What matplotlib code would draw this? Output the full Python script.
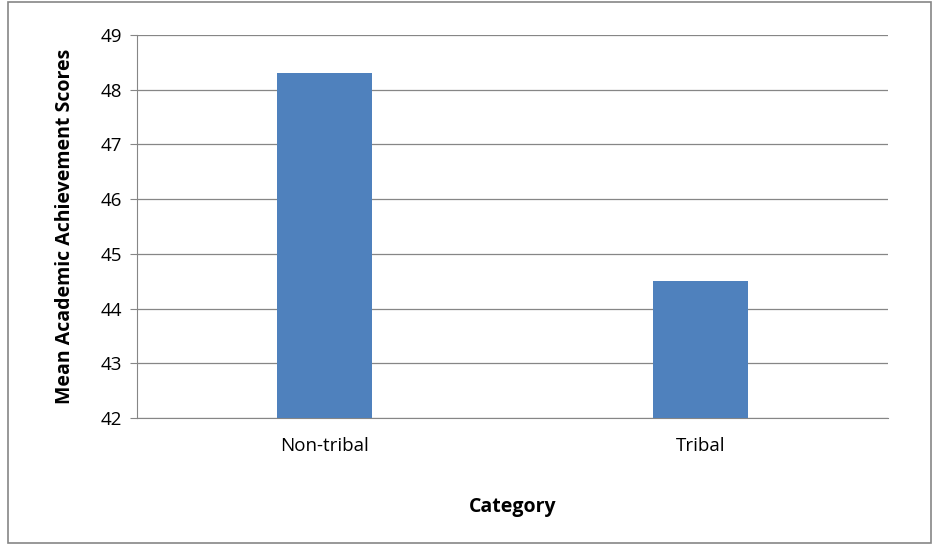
import matplotlib
matplotlib.use("Agg")
import matplotlib.pyplot as plt
from matplotlib.patches import Rectangle

categories = ["Non-tribal", "Tribal"]
values = [48.3, 44.5]
yticks = [42, 43, 44, 45, 46, 47, 48, 49]

plt.rcParams['font.family'] = ['Open Sans', 'DejaVu Sans']
fig = plt.figure(figsize=(9.34, 5.45), dpi=100)
ax = fig.add_axes([137/934, 1-418/545, 751/934, 383/545])
ax.bar(range(len(categories)), values, width=0.253, color="#4F81BD", zorder=3)
ax.set_xlim(-0.5, 1.5)
ax.set_ylim(42, 49)
ax.set_yticks(yticks)
ax.set_xticks(range(len(categories)))
ax.set_xticklabels(categories, fontsize=13.5)
ax.tick_params(axis='y', labelsize=13.5, length=5, color="#868686", pad=6)
ax.tick_params(axis='x', length=0, pad=14)
ax.grid(axis='y', color="#868686", linewidth=0.9, zorder=0)
for s in ['top', 'right']:
    ax.spines[s].set_visible(False)
ax.spines['left'].set_color("#868686")
ax.spines['bottom'].set_color("#868686")
ax.set_ylabel("Mean Academic Achievement Scores", fontsize=14, fontweight='bold', labelpad=18)
ax.set_xlabel("Category", fontsize=14, fontweight='bold', labelpad=30)
fig.patches.append(Rectangle((0.009, 0.003), 0.988, 0.994, transform=fig.transFigure,
                             fill=False, edgecolor="#868686", linewidth=1.2))
fig.savefig("out.png", dpi=100)
